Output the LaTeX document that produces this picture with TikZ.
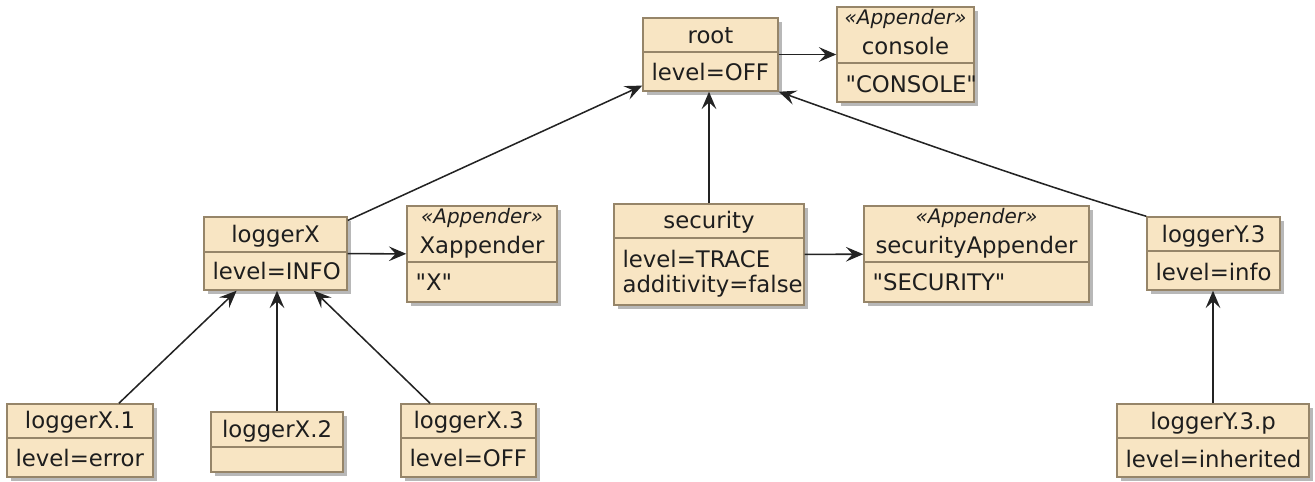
\documentclass[tikz,border=0pt]{standalone}
\usepackage{fontspec}
\setmainfont{DejaVu Sans}[Ligatures=TeXOff]
\usetikzlibrary{arrows.meta, fit, shadows}

\definecolor{objfill}{RGB}{248,229,195}
\definecolor{objline}{RGB}{150,133,105}
\definecolor{ink}{RGB}{30,30,30}
\definecolor{wire}{RGB}{35,35,35}

\begin{document}
\begin{tikzpicture}[x=0.75pt, y=-0.75pt,
    obj/.style={draw=objline, fill=objfill, line width=1.1pt, inner sep=0pt,
      drop shadow={shadow xshift=3pt, shadow yshift=-3pt, fill=black, opacity=0.28}},
    sep/.style={draw=objline, line width=1.1pt},
    ttl/.style={anchor=base, inner sep=0pt, text=ink, font=\fontsize{17.1}{20}\selectfont},
    fld/.style={anchor=base west, inner sep=0pt, xshift=6.75pt, text=ink, font=\fontsize{17.1}{20}\selectfont},
    stereo/.style={anchor=base, inner sep=0pt, text=ink, font=\fontsize{15}{17}\selectfont\itshape},
    link/.style={draw=wire, line width=1.15pt, -{Stealth[length=13pt, width=11pt, inset=5pt]}}]
    \useasboundingbox (0,0) rectangle (1315,482);

    % Objects (Loggers)
    \node[obj, fit={(643,18) (778,91)}] (root) {};
    \draw[sep] (root.west |- 0,52) -- (root.east |- 0,52);
    \node[ttl] (root-name) at (root.north |- 0,43) {root};
    \node[fld] (root-lvl) at (root.west |- 0,80) {level=OFF};

    \node[obj, fit={(204,217) (347,290)}] (loggerX) {};
    \draw[sep] (loggerX.west |- 0,252) -- (loggerX.east |- 0,252);
    \node[ttl] (loggerX-name) at (loggerX.north |- 0,242) {loggerX};
    \node[fld] (loggerX-lvl) at (loggerX.west |- 0,279) {level=INFO};

    \node[obj, fit={(614,204) (804,305)}] (security) {};
    \draw[sep] (security.west |- 0,238) -- (security.east |- 0,238);
    \node[ttl] (security-name) at (security.north |- 0,228) {security};
    \node[fld] (security-lvl) at (security.west |- 0,267) {level=TRACE};
    \node[fld] (security-add) at (security.west |- 0,292) {additivity=false};

    \node[obj, fit={(1147,217) (1280,290)}] (loggerY3) {};
    \draw[sep] (loggerY3.west |- 0,251) -- (loggerY3.east |- 0,251);
    \node[ttl] (loggerY3-name) at (loggerY3.north |- 0,242) {loggerY.3};
    \node[fld] (loggerY3-lvl) at (loggerY3.west |- 0,280) {level=info};

    \node[obj, fit={(7,404) (153,477)}] (loggerX1) {};
    \draw[sep] (loggerX1.west |- 0,438) -- (loggerX1.east |- 0,438);
    \node[ttl] (loggerX1-name) at (loggerX1.north |- 0,428) {loggerX.1};
    \node[fld] (loggerX1-lvl) at (loggerX1.west |- 0,466) {level=error};

    \node[obj, fit={(211,412) (343,472)}] (loggerX2) {};
    \draw[sep] (loggerX2.west |- 0,447) -- (loggerX2.east |- 0,447);
    \node[ttl] (loggerX2-name) at (loggerX2.north |- 0,437) {loggerX.2};

    \node[obj, fit={(401,404) (536,477)}] (loggerX3) {};
    \draw[sep] (loggerX3.west |- 0,438) -- (loggerX3.east |- 0,438);
    \node[ttl] (loggerX3-name) at (loggerX3.north |- 0,428) {loggerX.3};
    \node[fld] (loggerX3-lvl) at (loggerX3.west |- 0,466) {level=OFF};

    \node[obj, fit={(1117,404) (1309,477)}] (loggerY3p) {};
    \draw[sep] (loggerY3p.west |- 0,438) -- (loggerY3p.east |- 0,438);
    \node[ttl] (loggerY3p-name) at (loggerY3p.north |- 0,429) {loggerY.3.p};
    \node[fld] (loggerY3p-lvl) at (loggerY3p.west |- 0,467) {level=inherited};

    % Objects (Appenders)
    \node[obj, fit={(837,7) (974,102)}] (console) {};
    \draw[sep] (console.west |- 0,63) -- (console.east |- 0,63);
    \node[stereo] (console-st) at (console.north |- 0,24) {«Appender»};
    \node[ttl] (console-name) at (console.north |- 0,54) {console};
    \node[fld] (console-out) at (console.west |- 0,92) {"CONSOLE"};

    \node[obj, fit={(407,206) (557,302)}] (xappender) {};
    \draw[sep] (xappender.west |- 0,262) -- (xappender.east |- 0,262);
    \node[stereo] (xappender-st) at (xappender.north |- 0,223) {«Appender»};
    \node[ttl] (xappender-name) at (xappender.north |- 0,253) {Xappender};
    \node[fld] (xappender-out) at (xappender.west |- 0,290) {"X"};

    \node[obj, fit={(864,206) (1089,302)}] (secappender) {};
    \draw[sep] (secappender.west |- 0,262) -- (secappender.east |- 0,262);
    \node[stereo] (secappender-st) at (secappender.north |- 0,223) {«Appender»};
    \node[ttl] (secappender-name) at (secappender.north |- 0,253) {securityAppender};
    \node[fld] (secappender-out) at (secappender.west |- 0,290) {"SECURITY"};

    % Edges (Parents)
    \draw[link] (loggerX) -- (root);
    \draw[link] (security) -- (security |- root.south);
    \draw[link] (loggerY3.north west) .. controls (1040,185) and (900,135) .. (root.south east);
    \draw[link] (loggerX1) -- (loggerX);
    \draw[link] (loggerX2) -- (loggerX2 |- loggerX.south);
    \draw[link] (loggerX3) -- (loggerX);
    \draw[link] (loggerY3p) -- (loggerY3p |- loggerY3.south);

    % Edges (Appenders)
    \draw[link] (root) -- (console);
    \draw[link] (loggerX) -- (xappender);
    \draw[link] (security) -- (secappender);
\end{tikzpicture}
\end{document}
